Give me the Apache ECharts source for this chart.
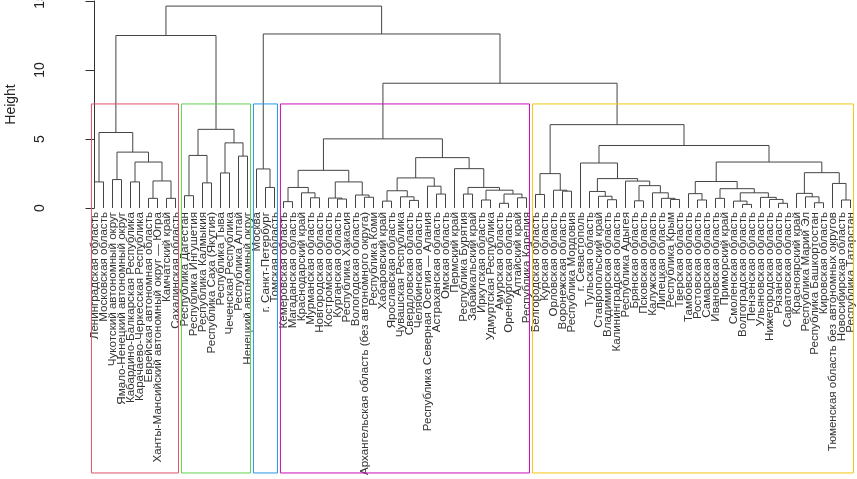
<!DOCTYPE html>
<html>
<head>
<meta charset="utf-8">
<script src="https://cdn.jsdelivr.net/npm/echarts@6/dist/echarts.min.js"></script>
<style>
html, body { margin: 0; padding: 0; background: #fff; }
#chart { width: 857px; height: 479px; }
</style>
</head>
<body>
<div id="chart"></div>
<script>
// leaf order of the dendrogram
var regionNames = [
    'Ленинградская область', 'Московская область', 'Чукотский автономный округ',
    'Ямало-Ненецкий автономный округ', 'Кабардино-Балкарская Республика',
    'Карачаево-Черкесская Республика', 'Еврейская автономная область',
    'Ханты-Мансийский автономный округ — Югра', 'Камчатский край', 'Сахалинская область',
    'Республика Дагестан', 'Республика Ингушетия', 'Республика Калмыкия',
    'Республика Саха (Якутия)', 'Республика Тыва', 'Чеченская Республика',
    'Республика Алтай', 'Ненецкий автономный округ',
    'Москва', 'г. Санкт-Петербург', 'Томская область',
    'Кемеровская область', 'Магаданская область', 'Краснодарский край', 'Мурманская область',
    'Новгородская область', 'Костромская область', 'Курганская область', 'Республика Хакасия',
    'Вологодская область', 'Архангельская область (без автономного округа)', 'Республика Коми',
    'Хабаровский край', 'Ярославская область', 'Чувашская Республика', 'Свердловская область',
    'Челябинская область', 'Республика Северная Осетия — Алания', 'Астраханская область',
    'Омская область', 'Пермский край', 'Республика Бурятия', 'Забайкальский край',
    'Иркутская область', 'Удмуртская Республика', 'Амурская область', 'Оренбургская область',
    'Алтайский край', 'Республика Карелия',
    'Белгородская область', 'Курская область', 'Орловская область', 'Воронежская область',
    'Республика Мордовия', 'г. Севастополь', 'Тульская область', 'Ставропольский край',
    'Владимирская область', 'Калининградская область', 'Республика Адыгея', 'Брянская область',
    'Псковская область', 'Калужская область', 'Липецкая область', 'Республика Крым',
    'Тверская область', 'Тамбовская область', 'Ростовская область', 'Самарская область',
    'Ивановская область', 'Приморский край', 'Смоленская область', 'Волгоградская область',
    'Пензенская область', 'Ульяновская область', 'Нижегородская область', 'Рязанская область',
    'Саратовская область', 'Красноярский край', 'Республика Марий Эл',
    'Республика Башкортостан', 'Кировская область', 'Тюменская область без автономных округов',
    'Новосибирская область', 'Республика Татарстан'
];

// merge node = [height, left, right]; a number is a leaf (index in regionNames)
var pinkTree = [5.47, [1.89, 0, 1],
    [4.05, [2.06, 2, 3], [3.33, [1.89, 4, 5], [1.96, [0.70, 6, 7], [0.70, 8, 9]]]]];

var greenTree = [5.70,
    [3.81, [0.89, 10, 11], [1.82, 12, 13]],
    [4.72, [2.54, 14, 15], [3.76, 16, 17]]];

var blueTree = [2.83, 18, [1.49, 19, 20]];

var purpleTree = [5.01,
    [2.73,
        [1.49, [0.46, 21, 22], [1.10, 23, [0.74, 24, 25]]],
        [1.89, [0.72, 26, [0.65, 27, 28]], [0.94, 29, [0.78, 30, 31]]]],
    [3.65,
        [2.18,
            [1.25, [0.50, 32, 33], [0.81, 34, [0.55, 35, 36]]],
            [1.58, 37, [1.01, 38, 39]]],
        [2.85, 40,
            [1.49, [1.01, 41, 42],
                [1.29, [0.58, 43, 44], [1.01, [0.34, 45, 46], [0.74, 47, 48]]]]]]];

var yellowTree = [6.04,
    [2.49, [0.98, 49, 50], [1.29, 51, [1.22, 52, 53]]],
    [4.53,
        [3.26, 54,
            [2.13,
                [1.20, 55, [0.85, 56, [0.60, 57, 58]]],
                [1.95, 59,
                    [1.62, [0.52, 60, 61], [1.10, 62, [0.70, 63, [0.62, 64, 65]]]]]]],
        [3.33,
            [1.92,
                [1.04, 66, [0.58, 67, 68]],
                [1.40, [0.70, 69, 70],
                    [1.10, [0.50, 71, [0.26, 72, 73]], [0.77, 74, [0.62, 75, [0.34, 76, 77]]]]]],
            [2.56,
                [1.06, 78, [0.81, 79, [0.38, 80, 81]]],
                [1.78, 82, [0.58, 83, 84]]]]]];

var fullTree = [14.63,
    [12.50, pinkTree, greenTree],
    [12.61, blueTree, [9.04, purpleTree, yellowTree]]];

var clusterTrees = [pinkTree, greenTree, blueTree, purpleTree, yellowTree];
var clusterColors = ['#DF536B', '#61D04F', '#2297E6', '#CD0BBC', '#F5C710'];
var plotBottom = -19.2;   // lower edge of the plotting region, in height units

// walk the tree: every merge gives one bracket [xLeft, hLeft, xRight, hRight, h]
var links = [];
var mergeHeights = [];
function walk(node) {
    if (typeof node === 'number') return { x: node, h: 0 };
    var a = walk(node[1]);
    var b = walk(node[2]);
    links.push([a.x, a.h, b.x, b.h, node[0]]);
    mergeHeights.push(node[0]);
    return { x: (a.x + b.x) / 2, h: node[0] };
}
walk(fullTree);

function leafRange(node) {
    if (typeof node === 'number') return [node, node];
    var a = leafRange(node[1]), b = leafRange(node[2]);
    return [Math.min(a[0], b[0]), Math.max(a[1], b[1])];
}

// like rect.hclust: top halfway between the k-1 and k highest merges
var sortedH = mergeHeights.slice().sort(function (a, b) { return b - a; });
var k = clusterTrees.length;
var rectTop = (sortedH[k - 2] + sortedH[k - 1]) / 2;
var rects = clusterTrees.map(function (t, i) {
    var r = leafRange(t);
    return [r[0] - 0.34, r[1] + 0.33, rectTop, plotBottom, i];
});

var chart = echarts.init(document.getElementById('chart'));
chart.setOption({
    animation: false,
    backgroundColor: '#fff',
    textStyle: { fontFamily: 'Liberation Sans, Arial, sans-serif' },
    grid: {
        left: 90, right: 2, top: 1, bottom: 271,
        containLabel: false,
        outerBoundsMode: 'none'
    },
    xAxis: [
        {
            type: 'category',
            data: regionNames,
            axisLine: { show: false },
            axisTick: { show: false },
            axisLabel: {
                interval: 0,
                rotate: 90,
                fontSize: 11.6,
                margin: 4,
                color: '#333'
            }
        },
        { type: 'value', min: -0.5, max: 84.5, show: false }
    ],
    yAxis: {
        type: 'value',
        min: 0,
        max: 15,
        interval: 5,
        offset: 26,
        name: 'Height',
        nameLocation: 'middle',
        nameRotate: 90,
        nameGap: 46,
        nameTextStyle: { fontSize: 14, color: '#222' },
        axisLine: { show: true, lineStyle: { color: '#333' } },
        axisTick: { show: true, length: 9, lineStyle: { color: '#333' } },
        axisLabel: { rotate: 90, fontSize: 14, margin: 17, color: '#222' },
        splitLine: { show: false }
    },
    series: [
        {
            type: 'custom',
            xAxisIndex: 1,
            data: links,
            renderItem: function (params, api) {
                var p1 = api.coord([api.value(0), api.value(1)]);
                var p2 = api.coord([api.value(0), api.value(4)]);
                var p3 = api.coord([api.value(2), api.value(4)]);
                var p4 = api.coord([api.value(2), api.value(3)]);
                return {
                    type: 'polyline',
                    shape: { points: [p1, p2, p3, p4] },
                    style: { stroke: '#444', lineWidth: 1, fill: null }
                };
            }
        },
        {
            type: 'custom',
            xAxisIndex: 1,
            clip: false,
            data: rects,
            renderItem: function (params, api) {
                var a = api.coord([api.value(0), api.value(2)]);
                var b = api.coord([api.value(1), api.value(3)]);
                return {
                    type: 'rect',
                    shape: { x: a[0], y: a[1], width: b[0] - a[0], height: b[1] - a[1] },
                    style: { stroke: clusterColors[api.value(4)], lineWidth: 1, fill: null }
                };
            }
        }
    ]
});
</script>
</body>
</html>
